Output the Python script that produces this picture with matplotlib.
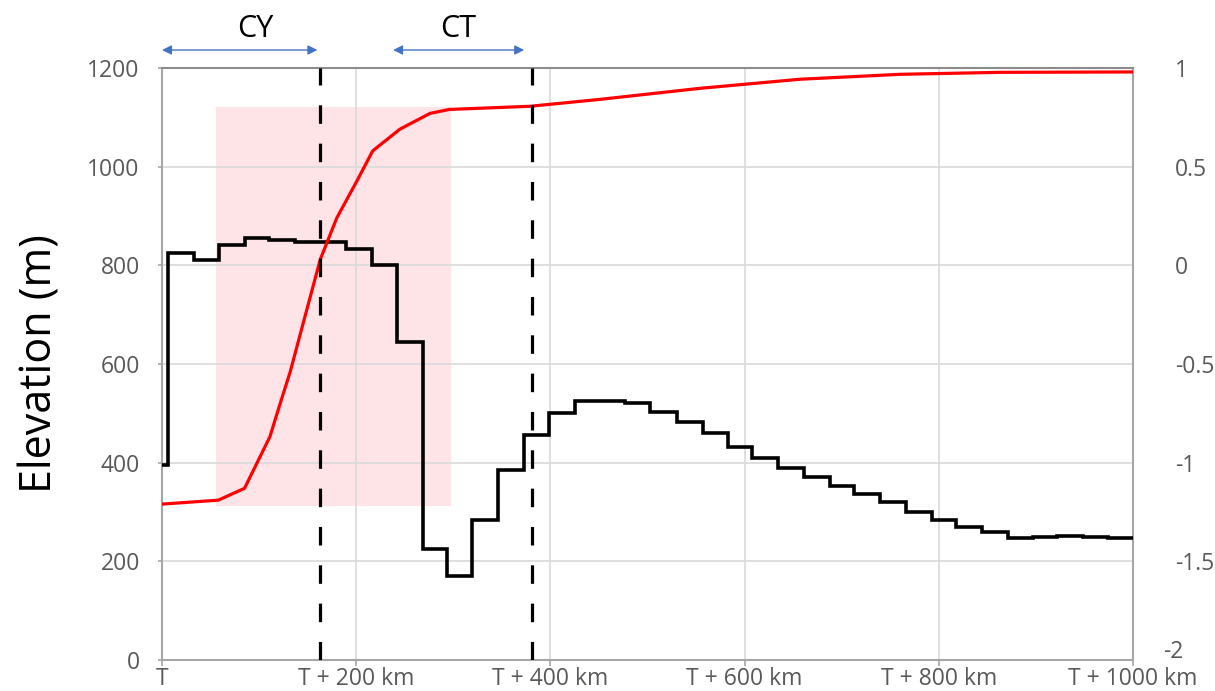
import matplotlib
matplotlib.use("Agg")
import matplotlib.pyplot as plt
import matplotlib.patches as mpatches

plt.rcParams['font.family'] = ['Open Sans', 'DejaVu Sans']

# profil d'altitude en paliers (bords en km, altitude en m)
bords_km = [0, 6, 33, 59, 85, 110, 137, 163, 189, 216, 242, 269, 294, 319, 346,
            373, 399, 425, 451, 477, 503, 530, 557, 583, 608, 634, 661, 688, 713,
            739, 766, 793, 818, 845, 871, 897, 922, 948, 974, 1000]
altitude_m = [395, 826, 811, 841, 855, 851, 848, 847, 833, 801, 645, 226, 170,
              284, 385, 456, 501, 524, 526, 520, 503, 483, 460, 431, 410, 390,
              370, 353, 337, 320, 299, 284, 270, 259, 248, 250, 252, 250, 248]

# courbe rouge (axe de droite)
rouge_km = [0, 58, 85, 111, 123, 132, 163, 180, 201, 217, 245, 276, 296, 348,
            379, 451, 554, 657, 760, 863, 1000]
rouge_val = [-1.21, -1.19, -1.13, -0.87, -0.68, -0.54, 0.03, 0.24, 0.43, 0.58,
             0.69, 0.77, 0.79, 0.80, 0.806, 0.841, 0.897, 0.943, 0.968, 0.978, 0.98]

x_ticks = [0, 200, 400, 600, 800, 1000]
x_labels = ["T", "T + 200 km", "T + 400 km", "T + 600 km", "T + 800 km", "T + 1000 km"]
y_ticks = [0, 200, 400, 600, 800, 1000, 1200]
y2_ticks = [-2, -1.5, -1, -0.5, 0, 0.5, 1]
y2_labels = ["-2", "-1.5", "-1", "-0.5", "0", "0.5", "1"]

# zone rose et limites CY / CT
zone_km = (56, 298)
zone_m = (312, 1121)
limites_km = [163, 381]
fleches = [("CY", 0, 160, 96), ("CT", 238, 373, 305)]

gris_texte = "#595959"
gris_grille = "#D9D9D9"
gris_axe = "#A6A6A6"
bleu = "#4472C4"

fig = plt.figure(figsize=(12.15, 6.91), dpi=100)
ax = fig.add_axes([162 / 1215, 31 / 691, (1133 - 162) / 1215, (660 - 68) / 691])

ax.add_patch(mpatches.Rectangle((zone_km[0], zone_m[0]), zone_km[1] - zone_km[0],
                                zone_m[1] - zone_m[0], facecolor="#FFE4E7",
                                edgecolor="none", zorder=0.2))
ax.stairs(altitude_m, bords_km, baseline=None, color="black", lw=2.6, zorder=3)

ax.set_xlim(0, 1000)
ax.set_ylim(0, 1200)
ax.set_xticks(x_ticks)
ax.set_xticklabels(x_labels)
ax.set_yticks(y_ticks)
ax.set_axisbelow(True)
ax.grid(True, color=gris_grille, lw=1.2)
ax.tick_params(axis="x", colors=gris_axe, labelcolor=gris_texte, labelsize=16.5,
               length=4, width=1.2, pad=1)
ax.tick_params(axis="y", colors=gris_axe, labelcolor=gris_texte, labelsize=16.5,
               length=3, width=1.2, pad=13)
ax.set_ylabel("Elevation (m)", fontsize=31, labelpad=18, color="black")
for sp in ax.spines.values():
    sp.set_color(gris_axe)
    sp.set_linewidth(1.5)
ax.spines["top"].set_color("#8C8C8C")

ax2 = ax.twinx()
ax2.plot(rouge_km, rouge_val, color="#FF0000", lw=2.3, zorder=4)
for xk in limites_km:
    ax2.axvline(xk, color="black", lw=2.3, linestyle=(0, (5.8, 6.2)), zorder=5)
ax2.set_ylim(-2, 1)
ax2.set_yticks(y2_ticks[1:])
ax2.set_yticklabels(y2_labels[1:])
ax2.tick_params(axis="y", length=0, labelcolor=gris_texte, labelsize=16.5, pad=30)
# le "-2" est un peu remonté pour ne pas toucher "T + 1000 km"
ax2.text(1.0309, 0.0135, y2_labels[0], transform=ax2.transAxes, ha="left",
         va="center", fontsize=16.5, color=gris_texte)
for sp in ax2.spines.values():
    sp.set_visible(False)

# fleches CY / CT au-dessus du graphique
for nom, x0, x1, xt in fleches:
    ax.annotate("", xy=(x1, 1.0304), xytext=(x0, 1.0304),
                xycoords=("data", "axes fraction"), textcoords=("data", "axes fraction"),
                arrowprops=dict(arrowstyle="<|-|>", color=bleu, lw=1.0,
                                mutation_scale=14, shrinkA=0, shrinkB=0),
                annotation_clip=False)
    ax.text(xt, 1.066, nom, transform=ax.get_xaxis_transform(), ha="center",
            va="center", fontsize=22, color="black")

fig.savefig("out.png", dpi=100)
